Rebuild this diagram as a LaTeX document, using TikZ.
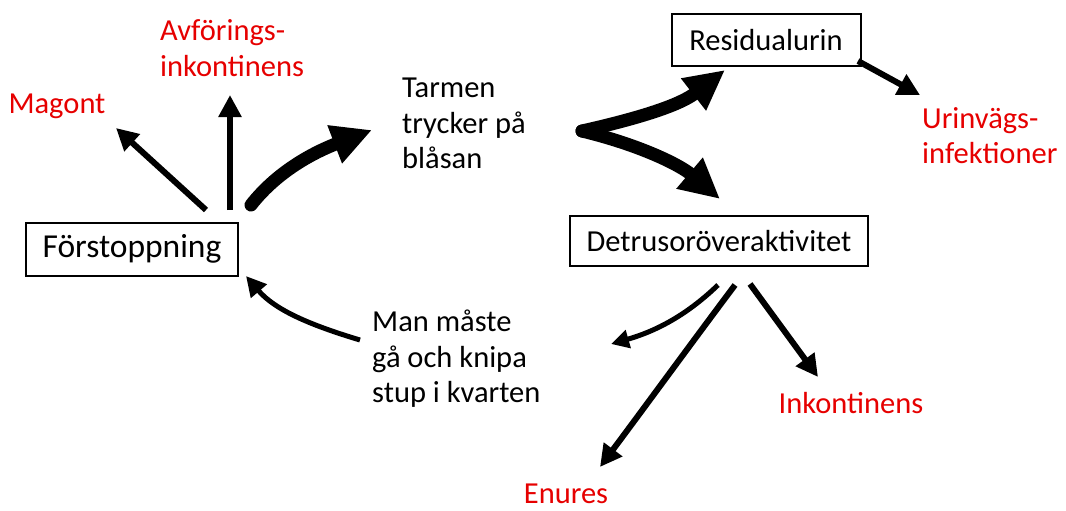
\documentclass[tikz,border=0pt]{standalone}
\usepackage{fontspec}
\setmainfont{Carlito}
\usetikzlibrary{arrows.meta}
\begin{document}
\begin{tikzpicture}[x=1pt,y=-1pt,
  box/.style={draw,line width=2pt,inner sep=0pt,font=\fontsize{30.5}{36}\selectfont},
  txt/.style={font=\fontsize{30.5}{35.5}\selectfont,align=left,inner sep=0pt},
  rtxt/.style={txt,text={rgb,255:red,230;green,0;blue,0}},
  thin/.style={line width=6pt,-{Triangle[length=22pt,width=22pt]}},
  fat/.style={line width=13pt,line cap=round,-{Triangle[length=40pt,width=38pt]}}]
\useasboundingbox (0,0) rectangle (1066,511);
% boxes
\node[box,minimum width=212pt,minimum height=53pt,font=\fontsize{33.5}{38}\selectfont] (forst) at (132,249) {Förstoppning};
\node[box,minimum width=189pt,minimum height=52pt] (resid) at (766,40) {Residualurin};
\node[box,minimum width=298pt,minimum height=50pt] (detr) at (719,241) {Detrusoröveraktivitet};
% texts
\node[txt,anchor=north west] (tarm) at (402,78) {Tarmen\\trycker på\\blåsan};
\node[txt,anchor=north west] (man) at (372,310) {Man måste\\gå och knipa\\stup i kvarten};
\node[rtxt] (mag) at (57,106) {Magont};
\node[rtxt,anchor=west] (avf) at (160,48) {Avförings-\\inkontinens};
\node[rtxt,anchor=north west] (uri) at (922,107) {Urinvägs-\\infektioner};
\node[rtxt] (inko) at (851,403) {Inkontinens};
\node[rtxt] (enu) at (566,494) {Enures};
% coordinates
\coordinate (f1) at (206,210);
\coordinate (f1e) at (116,128);
\coordinate (f2) at (230,210);
\coordinate (f2e) at (230,95);
\coordinate (f3) at (251,205);
\coordinate (f3e) at (372,130);
\coordinate (fk) at (582,131);
\coordinate (fke1) at (725,70);
\coordinate (fke2) at (720,199);
\coordinate (r1) at (858,61);
\coordinate (r1e) at (920,95);
\coordinate (d1) at (718,285);
\coordinate (d1e) at (611,344);
\coordinate (d2) at (735,285);
\coordinate (d2e) at (600,467);
\coordinate (d3) at (750,284);
\coordinate (d3e) at (818,377);
\coordinate (m1) at (360,340);
\coordinate (m1e) at (246,276);
% arrows
\draw[thin] (f1) -- (f1e);
\draw[thin] (f2) -- (f2e);
\draw[fat] (f3) .. controls (280,168) and (320,150) .. (f3e);
\draw[fat] (fk) .. controls (640,118) and (680,105) .. (fke1);
\draw[fat] (fk) .. controls (640,145) and (680,165) .. (fke2);
\draw[thin] (r1) -- (r1e);
\draw[line width=5pt,-{Triangle[length=18pt,width=18pt]}] (d1) .. controls (690,312) and (660,330) .. (d1e);
\draw[thin] (d2) .. controls (690,345) and (650,400) .. (d2e);
\draw[thin] (d3) -- (d3e);
\draw[line width=5pt,-{Triangle[length=20pt,width=20pt]}] (m1) .. controls (310,325) and (275,310) .. (m1e);
\end{tikzpicture}
\end{document}
